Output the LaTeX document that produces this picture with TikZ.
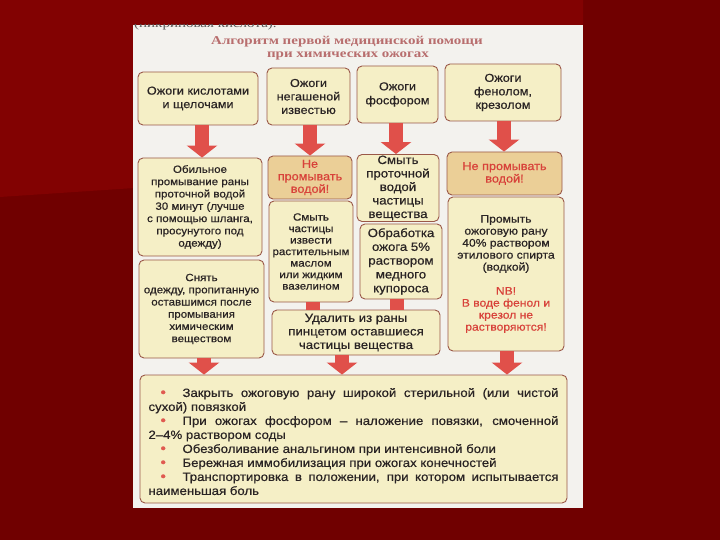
\documentclass[tikz,border=0pt]{standalone}
\usepackage{fontspec}
\setmainfont{Liberation Sans}[FakeStretch=1.1, FakeBold=0.6]
\newfontfamily\titlefont{Liberation Serif}[FakeStretch=1.25]
\usetikzlibrary{arrows.meta}
\definecolor{bgdark}{HTML}{700000}
\definecolor{bglight}{HTML}{820202}
\definecolor{page}{HTML}{F3F2EE}
\definecolor{boxfill}{HTML}{F5EFC6}
\definecolor{warnfill}{HTML}{EBCF97}
\definecolor{boxline}{HTML}{9A5848}
\definecolor{arrowc}{HTML}{E0504A}
\definecolor{txt}{HTML}{2A2424}
\definecolor{redtxt}{HTML}{D8423A}
\definecolor{titlec}{HTML}{B86E6E}
\definecolor{bul}{HTML}{E05A50}
\newcommand\fs[2]{\fontsize{#1}{#2}\selectfont\hyphenpenalty=10000\exhyphenpenalty=10000 }
\newcommand\bitem{\par\noindent\makebox[34pt][l]{\hspace{12pt}\textcolor{bul}{\fontsize{14}{14}\selectfont •}}\ignorespaces}
\tikzset{
  box/.style={draw=boxline, fill=boxfill, rounded corners=5pt, line width=0.9pt,
    align=center, inner sep=1pt, text=txt},
  warnbox/.style={box, fill=warnfill, text=redtxt},
  bigarrow/.style={draw=arrowc, line width=14pt, -{Triangle[width=30pt,length=12pt]}},
  stubline/.style={draw=arrowc, line width=14pt},
  titletext/.style={text=titlec, font=\titlefont\bfseries\fontsize{12}{13}\selectfont}
}
\begin{document}
\begin{tikzpicture}[x=1pt,y=-1pt]
\useasboundingbox (0,0) rectangle (720,540);
\fill[bgdark] (0,0) rectangle (720,540);
\fill[bglight] (0,0) -- (583,0) -- (583,158) -- (0,197) -- cycle;
\fill[page] (133,25) rectangle (583,508);
\begin{scope}
  \clip (133,25) rectangle (583,40);
  \node[anchor=base west, inner sep=0pt, text=black!65, font=\titlefont\fontsize{12}{13}\selectfont] (top) at (134,28) {(пикриновая кислота).};
\end{scope}
\node[titletext] (t1) at (347,42) {Алгоритм первой медицинской помощи};
\node[titletext] (t2) at (348,56) {при химических ожогах};

% row 1
\node[box, minimum width=120, minimum height=53, font=\fs{11.5}{13.5}] (a1) at (198,98.5) {Ожоги кислотами\\и щелочами};
\node[box, minimum width=83, minimum height=57, font=\fs{11.5}{13.5}] (b1) at (308.5,96.5) {Ожоги\\негашеной\\известью};
\node[box, minimum width=81, minimum height=57, font=\fs{11.5}{14}] (c1) at (397.5,94.5) {Ожоги\\фосфором};
\node[box, minimum width=116, minimum height=57, font=\fs{11.5}{13.5}] (d1) at (503,92.5) {Ожоги\\фенолом,\\крезолом};

% row 2
\node[box, minimum width=124, minimum height=98, font=\fs{10.5}{12.3}] (a2) at (200,207) {Обильное\\промывание раны\\проточной водой\\30 минут (лучше\\с помощью шланга,\\просунутого под\\одежду)};
\node[box, minimum width=125, minimum height=98, font=\fs{10.5}{12.2}] (a3) at (201.5,309) {Снять\\одежду, пропитанную\\оставшимся после\\промывания\\химическим\\веществом};
\node[warnbox, minimum width=84, minimum height=43, font=\fs{11.5}{12.5}] (b2) at (310,177.5) {Не\\промывать\\водой!};
\node[box, minimum width=84, minimum height=101, font=\fs{10.5}{11.5}] (b3) at (311,251.5) {Смыть\\частицы\\извести\\растительным\\маслом\\или жидким\\вазелином};
\node[box, minimum width=82, minimum height=67, font=\fs{12}{13.5}] (c2) at (398,188) {Смыть\\проточной\\водой\\частицы\\вещества};
\node[box, minimum width=82, minimum height=75, font=\fs{12}{13.8}] (c3) at (401,261.5) {Обработка\\ожога 5\%\\раствором\\медного\\купороса};
\node[box, minimum width=168, minimum height=45, font=\fs{12}{13.5}] (bc4) at (356,332.5) {Удалить из раны\\пинцетом оставшиеся\\частицы вещества};
\node[warnbox, minimum width=115, minimum height=43, font=\fs{11.5}{12.5}] (d2) at (504.5,173.5) {Не промывать\\водой!};
\node[box, minimum width=116, minimum height=154, font=\fs{11}{12}] (d3) at (506,274) {Промыть\\ожоговую рану\\40\% раствором\\этилового спирта\\(водкой)\\[12pt]\textcolor{redtxt}{NB!}\\\textcolor{redtxt}{В воде фенол и}\\\textcolor{redtxt}{крезол не}\\\textcolor{redtxt}{растворяются!}};

% bottom box
\node[box, align=justify, text width=410pt, inner xsep=8.5pt, minimum width=427, minimum height=128, font=\fs{12}{14}] (e) at (353.5,439) {%
\bitem Закрыть ожоговую рану широкой стерильной (или чистой\linebreak сухой) повязкой
\bitem При ожогах фосфором – наложение повязки, смоченной\linebreak 2–4\% раствором соды
\bitem Обезболивание анальгином при интенсивной боли
\bitem Бережная иммобилизация при ожогах конечностей
\bitem Транспортировка в положении, при котором испытывается\linebreak наименьшая боль\par};

% arrows
\draw[bigarrow] ([xshift=4pt]a1.south) -- ([xshift=2pt]a2.north);
\draw[bigarrow] ([xshift=1.5pt]b1.south) -- (b2.north);
\draw[bigarrow] ([xshift=-1.5pt]c1.south) -- ([xshift=-2pt]c2.north);
\draw[bigarrow] ([xshift=1pt]d1.south) -- ([xshift=-0.5pt]d2.north);
\draw[stubline] ([xshift=2pt]b3.south) -- ([xshift=-43pt]bc4.north);
\draw[stubline] ([xshift=-4pt]c3.south) -- ([xshift=41pt]bc4.north);
\draw[bigarrow] ([xshift=2.5pt]a3.south) -- ([xshift=-149.5pt]e.north);
\draw[bigarrow] ([xshift=-14pt]bc4.south) -- ([xshift=-11.5pt]e.north);
\draw[bigarrow] ([xshift=1pt]d3.south) -- ([xshift=153.5pt]e.north);
\end{tikzpicture}
\end{document}
